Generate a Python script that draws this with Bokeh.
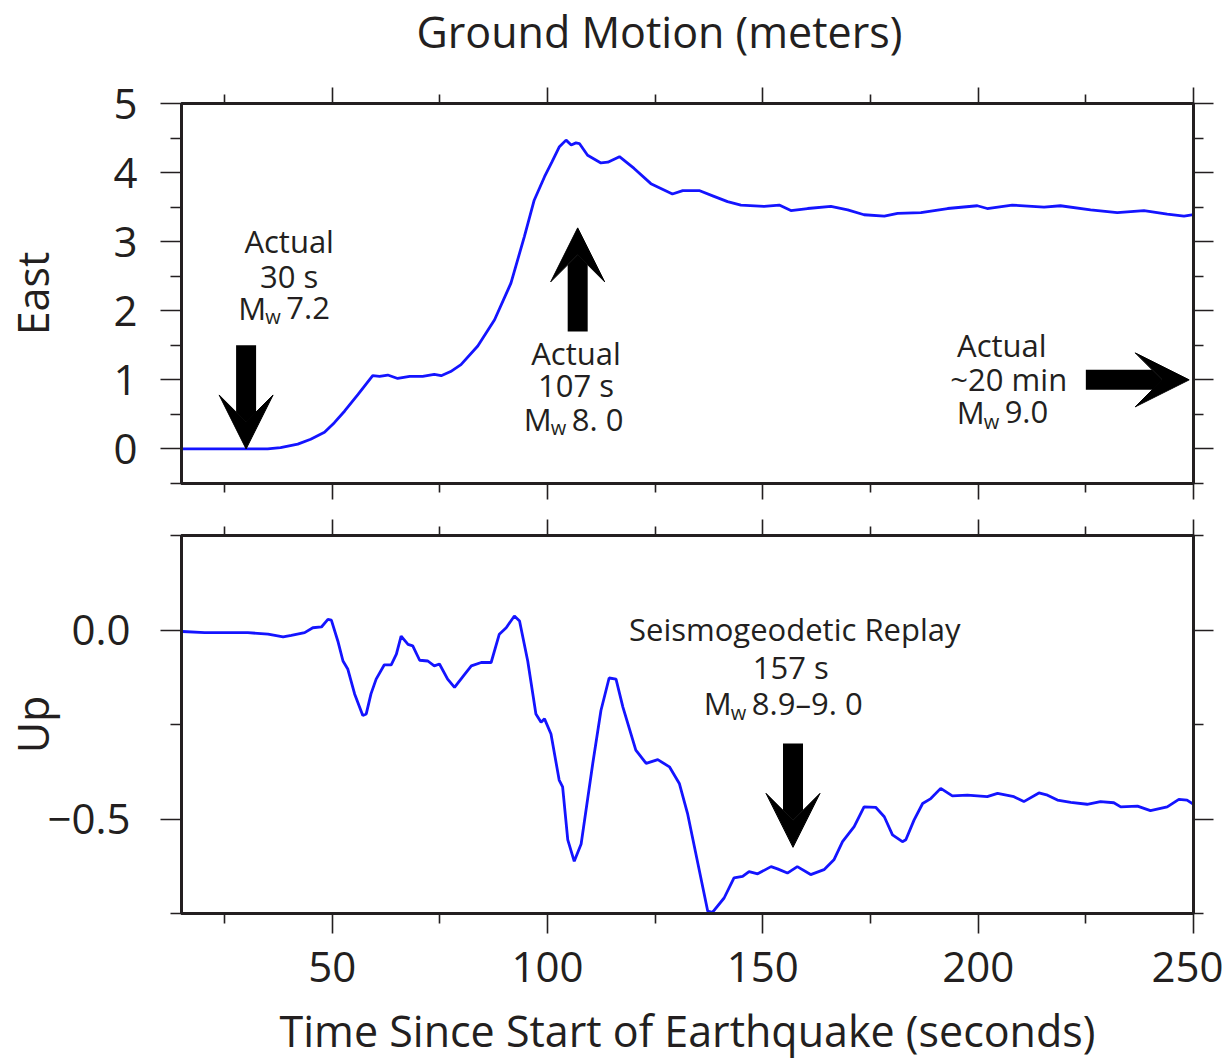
from bokeh.plotting import figure
from bokeh.models import (LinearAxis, FixedTicker, CustomJSTickFormatter, Range1d,
                          Arrow, VeeHead, ColumnDataSource)
from bokeh.layouts import column
from bokeh.embed import file_html
from bokeh.resources import INLINE
from bokeh.core.properties import value

FONT = "Open Sans"
INK = "#231f20"
BLUE = "#1414ff"

# ---------------- data ----------------
east_t = [15, 20, 25, 30, 35, 38, 42, 45, 48.2, 50.5, 52.9, 56, 59.4, 61, 62.9, 65.2, 68, 71,
          73.7, 75.3, 77.5, 79.9, 83.8, 87.7, 91.5, 94.6, 96.9, 99.3, 101, 102.7, 104.3, 105.5,
          106.6, 107.4, 109.3, 112.4, 114, 116.7, 120.1, 124, 129, 131.4, 135.2, 138.5, 141.8,
          144.9, 150.3, 153.8, 156.5, 160.4, 165.8, 169.7, 173.5, 178.2, 181.3, 186.7, 192.9,
          199.8, 202.1, 207.9, 215.3, 219.1, 226.1, 232.3, 238.5, 243.9, 247.8, 250]
east_m = [0, 0, 0, 0, 0, 0.02, 0.07, 0.14, 0.24, 0.38, 0.55, 0.79, 1.06, 1.05, 1.07, 1.02, 1.05,
          1.05, 1.08, 1.06, 1.12, 1.22, 1.49, 1.87, 2.40, 3.07, 3.60, 3.94, 4.15, 4.37, 4.47, 4.40,
          4.43, 4.42, 4.25, 4.14, 4.15, 4.23, 4.06, 3.84, 3.69, 3.74, 3.74, 3.66, 3.58, 3.53, 3.51,
          3.53, 3.45, 3.48, 3.51, 3.46, 3.39, 3.37, 3.41, 3.42, 3.48, 3.52, 3.48, 3.53, 3.50, 3.52,
          3.46, 3.42, 3.45, 3.40, 3.37, 3.39]

up_t = [15.2, 20.4, 30.4, 35.1, 38.6, 40.5, 43.6, 45.5, 47.5, 49.0, 49.8, 51.3, 52.5, 53.6, 55.2,
        57.1, 57.9, 59.0, 60.2, 62.1, 63.7, 64.9, 66.0, 67.6, 68.7, 70.3, 72.2, 73.7, 74.9, 76.8,
        78.4, 80.7, 82.3, 84.6, 86.9, 88.8, 90.4, 92.3, 93.5, 95.4, 97.3, 98.5, 99.3, 100.8, 102.7,
        103.5, 104.7, 106.2, 107.8, 110.5, 112.4, 114.3, 115.9, 117.5, 120.5, 122.9, 125.6, 128.3,
        130.6, 132.5, 134.9, 137.2, 138.3, 141.0, 143.3, 145.3, 146.8, 148.8, 151.9, 153.4, 155.7,
        158.0, 161.1, 164.2, 166.5, 168.5, 171.2, 173.5, 176.2, 178.2, 180.1, 182.4, 183.2, 185.1,
        187.1, 189.0, 191.3, 194.0, 197.5, 202.1, 204.5, 208.3, 210.6, 214.1, 216.1, 218.4, 221.5,
        225.3, 228.4, 231.5, 233.1, 237.0, 240.0, 243.9, 246.6, 248.5, 250.0]
up_m = [-0.004, -0.007, -0.007, -0.011, -0.018, -0.014, -0.007, 0.006, 0.008, 0.028, 0.026,
        -0.029, -0.082, -0.103, -0.169, -0.226, -0.222, -0.169, -0.130, -0.092, -0.092, -0.064,
        -0.016, -0.038, -0.042, -0.080, -0.082, -0.095, -0.090, -0.130, -0.152, -0.118, -0.095,
        -0.086, -0.086, -0.011, 0.006, 0.037, 0.024, -0.082, -0.222, -0.244, -0.235, -0.275,
        -0.397, -0.415, -0.555, -0.612, -0.566, -0.353, -0.213, -0.127, -0.130, -0.204, -0.318,
        -0.353, -0.343, -0.362, -0.406, -0.485, -0.617, -0.744, -0.747, -0.709, -0.656, -0.652,
        -0.639, -0.645, -0.626, -0.632, -0.643, -0.626, -0.647, -0.634, -0.608, -0.560, -0.520,
        -0.468, -0.469, -0.494, -0.542, -0.560, -0.555, -0.503, -0.459, -0.446, -0.419, -0.439,
        -0.437, -0.441, -0.432, -0.441, -0.454, -0.431, -0.437, -0.450, -0.456, -0.461, -0.454,
        -0.457, -0.468, -0.466, -0.478, -0.468, -0.448, -0.450, -0.461]

x_major = [50, 100, 150, 200, 250]
x_minor = [25, 75, 125, 175, 225]
east_major = [0, 1, 2, 3, 4, 5]
east_minor = [-0.5, 0.5, 1.5, 2.5, 3.5, 4.5]
up_major = [-0.5, 0.0]
up_minor = [-0.75, -0.25, 0.25]
up_labels = {-0.5: "\u22120.5", 0.0: "0.0"}

# annotations (top panel)
top_note_x = [40, 40, 106.6, 106.6, 205.5, 207.1]
top_note_y = [2.84, 2.33, 1.22, 0.75, 1.33, 0.84]
top_note_text = ["Actual", "30 s", "Actual", "107 s", "Actual", "~20 min"]
top_mw_x = [28.2, 94.5, 195.0]
top_mw_y = [1.87, 0.26, 0.36]
top_mw_rest = ["7.2", "8. 0", "9.0"]
top_arrow_x0 = [30, 107, 225]
top_arrow_y0 = [1.5, 1.7, 1.0]
top_arrow_x1 = [30, 107, 249]
top_arrow_y1 = [0.0, 3.2, 1.0]

# annotations (bottom panel)
bot_note_x = [157.4, 156.5]
bot_note_y = [-0.029, -0.129]
bot_note_text = ["Seismogeodetic Replay", "157 s"]
bot_mw_x = [136.3]
bot_mw_y = [-0.226]
bot_mw_rest = ["8.9\u20139. 0"]
bot_arrow_x0 = [157]
bot_arrow_y0 = [-0.30]
bot_arrow_x1 = [157]
bot_arrow_y1 = [-0.575]

# ---------------- helpers ----------------
W = 1223
XR = (15, 250)
DY = -12  # baseline correction for annotation text


def style_axis(ax, ticks, minor, major_out, minor_out, labels=True, size="42px", standoff=10):
    ax.ticker = FixedTicker(ticks=ticks, minor_ticks=minor)
    ax.major_tick_in = 0
    ax.minor_tick_in = 0
    ax.major_tick_out = major_out
    ax.minor_tick_out = minor_out
    ax.major_tick_line_color = INK
    ax.minor_tick_line_color = INK
    ax.major_tick_line_width = 1.6
    ax.minor_tick_line_width = 1.6
    ax.axis_line_color = INK
    ax.axis_line_width = 3
    if labels:
        ax.major_label_text_font = FONT
        ax.major_label_text_font_size = size
        ax.major_label_text_color = INK
        ax.major_label_standoff = standoff
    else:
        ax.formatter = CustomJSTickFormatter(code="return ''")
        ax.major_label_standoff = standoff
        ax.major_label_text_font_size = "1px"


def axis_title(ax, text, standoff):
    ax.axis_label = text
    ax.axis_label_text_font = FONT
    ax.axis_label_text_font_size = "43px"
    ax.axis_label_text_font_style = "normal"
    ax.axis_label_text_color = INK
    ax.axis_label_standoff = standoff


def add_notes(p, xs, ys, texts):
    src = ColumnDataSource(dict(x=xs, y=ys, t=texts))
    p.text(x="x", y="y", text="t", source=src, text_font=value(FONT), text_font_size="31px",
           text_color=INK, text_align="center", text_baseline="alphabetic", y_offset=DY)


def add_mw(p, xs, ys, rests):
    src = ColumnDataSource(dict(x=xs, y=ys, m=["M"] * len(xs), w=["w"] * len(xs), r=rests))
    p.text(x="x", y="y", text="m", source=src, text_font=value(FONT), text_font_size="31px",
           text_color=INK, text_align="left", text_baseline="alphabetic", y_offset=DY)
    p.text(x="x", y="y", text="w", source=src, text_font=value(FONT), text_font_size="20px",
           text_color=INK, text_align="left", text_baseline="alphabetic", x_offset=27,
           y_offset=DY + 9)
    p.text(x="x", y="y", text="r", source=src, text_font=value(FONT), text_font_size="31px",
           text_color=INK, text_align="left", text_baseline="alphabetic", x_offset=48,
           y_offset=DY)


def add_arrows(p, x0, y0, x1, y1):
    src = ColumnDataSource(dict(x0=x0, y0=y0, x1=x1, y1=y1))
    head = VeeHead(size=54, fill_color="black", line_color="black", line_width=1)
    p.add_layout(Arrow(end=head, source=src, x_start="x0", y_start="y0", x_end="x1", y_end="y1",
                       line_color="black", line_width=20))


def make_fig(height, yr, top, bottom):
    p = figure(width=W, height=height, x_range=Range1d(*XR), y_range=Range1d(*yr),
               output_backend="svg", toolbar_location=None, tools="",
               min_border_left=181, min_border_right=30, min_border_top=top,
               min_border_bottom=bottom, background_fill_color="white",
               border_fill_color="white")
    p.xgrid.visible = False
    p.ygrid.visible = False
    p.outline_line_color = INK
    p.outline_line_width = 3
    p.outline_line_alpha = 1
    return p


# ---------------- top panel (East) ----------------
p1 = make_fig(509, (-0.5, 5), 103, 26)
p1.title.text = "Ground Motion (meters)"
p1.title.text_font = FONT
p1.title.text_font_size = "43px"
p1.title.text_font_style = "normal"
p1.title.text_color = INK
p1.title.align = "left"
p1.title.offset = 235
p1.title.standoff = -12

style_axis(p1.xaxis[0], x_major, x_minor, 16, 9, labels=False, standoff=0)
style_axis(p1.yaxis[0], east_major, east_minor, 21, 11, labels=True, standoff=23)
axis_title(p1.yaxis[0], "East", 48)
ax_top = LinearAxis()
style_axis(ax_top, x_major, x_minor, 16, 9, labels=False, standoff=0)
ax_top.axis_label = " "
ax_top.axis_label_text_font_size = "1px"
ax_top.axis_label_standoff = 29
p1.add_layout(ax_top, "above")
ax_right = LinearAxis()
style_axis(ax_right, east_major, east_minor, 20, 10, labels=False, standoff=0)
p1.add_layout(ax_right, "right")

p1.line(east_t, east_m, line_color=BLUE, line_width=2.8)
add_arrows(p1, top_arrow_x0, top_arrow_y0, top_arrow_x1, top_arrow_y1)
add_notes(p1, top_note_x, top_note_y, top_note_text)
add_mw(p1, top_mw_x, top_mw_y, top_mw_rest)

# ---------------- bottom panel (Up) ----------------
p2 = make_fig(553, (-0.75, 0.25), 26, 149)
style_axis(p2.xaxis[0], x_major, x_minor, 20, 10, labels=True, standoff=18)
axis_title(p2.xaxis[0], "Time Since Start of Earthquake (seconds)", 16)
style_axis(p2.yaxis[0], up_major, up_minor, 21, 11, labels=True, standoff=30)
p2.yaxis[0].major_label_overrides = up_labels
axis_title(p2.yaxis[0], "Up", -18)
ax_top2 = LinearAxis()
style_axis(ax_top2, x_major, x_minor, 16, 9, labels=False, standoff=0)
p2.add_layout(ax_top2, "above")
ax_right2 = LinearAxis()
style_axis(ax_right2, up_major, up_minor, 20, 10, labels=False, standoff=0)
p2.add_layout(ax_right2, "right")

p2.line(up_t, up_m, line_color=BLUE, line_width=2.8)
add_arrows(p2, bot_arrow_x0, bot_arrow_y0, bot_arrow_x1, bot_arrow_y1)
add_notes(p2, bot_note_x, bot_note_y, bot_note_text)
add_mw(p2, bot_mw_x, bot_mw_y, bot_mw_rest)

layout = column(p1, p2, spacing=0)
open("out.html", "w").write(file_html(layout, INLINE))
